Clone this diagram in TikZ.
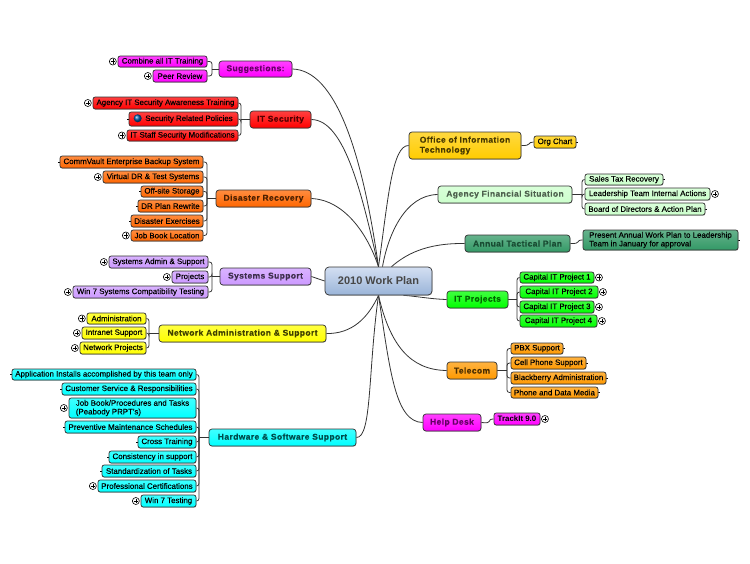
\documentclass[tikz,border=0pt]{standalone}
\usepackage{fontspec}
\setmainfont{Liberation Sans}
\newfontfamily\brfont[LetterSpace=4.5,FakeBold=0.25]{Liberation Sans Bold}
\newfontfamily\lffont[FakeBold=0.12]{Liberation Sans}
\usetikzlibrary{shadows,backgrounds,calc}
\definecolor{lineC}{HTML}{333333}
\definecolor{orgA}{HTML}{FF6600}\definecolor{purA}{HTML}{CC99FF}\definecolor{offA}{HTML}{FFCC00}
\definecolor{finA}{HTML}{CCFFCC}\definecolor{annA}{HTML}{339966}\definecolor{telA}{HTML}{FF9900}
\definecolor{magA}{HTML}{FF00FF}\definecolor{grnA}{HTML}{00FF00}\definecolor{cyaA}{HTML}{00FFFF}\definecolor{yelA}{HTML}{FFFF00}\definecolor{redA}{HTML}{FF0000}
\definecolor{cenT}{HTML}{D3DFF2}\definecolor{cenM}{HTML}{B4C9E6}\definecolor{cenB}{HTML}{9AB4D8}
\tikzset{
  x=1pt,y=-1pt,
  link/.style={draw=lineC,line width=0.8pt},
  bx/.style={rounded corners=2.2pt,draw=lineC,line width=0.7pt,inner sep=0pt,align=left,
    drop shadow={shadow xshift=0.4pt,shadow yshift=-0.7pt,fill=black!45,opacity=0.7}},
  leaf/.style={bx,font=\lffont\fontsize{7.9}{8.7}\selectfont,text=black,
    top color=#1!75!white,middle color=#1,bottom color=#1},
  leafb/.style={leaf=#1,font=\fontsize{7.9}{8.7}\selectfont\bfseries},
  branch/.style n args={2}{bx,rounded corners=3pt,font=\brfont\fontsize{8.5}{10}\selectfont,text=#2,
    top color=#1!75!white,middle color=#1,bottom color=#1},
  pm/.style={circle,draw=black,fill=white,line width=0.6pt,minimum size=7pt,inner sep=0pt,
    path picture={\draw[line width=0.7pt,black] ($(path picture bounding box.center)+(-2.2,0)$)--($(path picture bounding box.center)+(2.2,0)$)
      ($(path picture bounding box.center)+(0,-2.2)$)--($(path picture bounding box.center)+(0,2.2)$);}},
  tick/.style={draw=black,line width=0.7pt},
}
\newcommand{\nbox}[7]{%
  \pgfmathsetmacro{\xc}{(#2+#4)/2}\pgfmathsetmacro{\yc}{(#3+#5)/2}%
  \pgfmathsetmacro{\ww}{#4-#2}\pgfmathsetmacro{\hh}{#5-#3}%
  \node[#6,minimum width=\ww pt,minimum height=\hh pt] (#1) at (\xc,\yc) {#7};}
\newcommand{\plL}[1]{\node[pm] (p#1) at ($(#1.west)+(-4.8,0)$) {};}
\newcommand{\plR}[1]{\node[pm] (p#1) at ($(#1.east)+(4.6,0)$) {};}
\newcommand{\tkL}[1]{\draw[tick] (#1.west) -- ++(-1.6,0);}
\newcommand{\tkR}[1]{\draw[tick] (#1.east) -- ++(1.6,0);}
\begin{document}
\begin{tikzpicture}
\useasboundingbox (0,0) rectangle (750,563);
% central
\nbox{c}{325}{267}{432}{295}{bx,rounded corners=4pt,font=\fontsize{11}{12}\selectfont\bfseries,text=black!72,top color=cenT,middle color=cenM,bottom color=cenB}{2010 Work Plan}
% branches
\nbox{sug}{219}{61}{292}{77}{branch={magA}{black!60!magA}}{Suggestions:}
\nbox{sec}{250}{111}{311}{128}{branch={redA}{black!65!redA}}{IT Security}
\nbox{dis}{216}{190}{311}{207}{branch={orgA}{black!70!orgA}}{Disaster Recovery}
\nbox{sys}{220}{268}{311}{285}{branch={purA}{black!70!purA}}{Systems Support}
\nbox{net}{159}{325}{326}{342}{branch={yelA}{black!75!yelA}}{Network Administration \& Support}
\nbox{hw}{209}{429}{356}{446}{branch={cyaA}{black!70!cyaA}}{Hardware \& Software Support}
\nbox{off}{409}{132}{521}{159}{branch={offA}{black!72!offA}}{Office of Information\hspace{6pt}\\Technology}
\nbox{fin}{438}{186}{572}{203}{branch={finA}{black!62!finA}}{Agency Financial Situation}
\nbox{ann}{465}{235}{570}{252}{branch={annA}{black!50!annA}}{Annual Tactical Plan}
\nbox{prj}{447}{291}{508}{308}{branch={grnA}{black!60!grnA}}{IT Projects}
\nbox{tel}{447}{362}{497}{379}{branch={telA}{black!70!telA}}{Telecom}
\nbox{hlp}{423}{414}{481}{431}{branch={magA}{black!60!magA}}{Help Desk}
% leaves left
\nbox{a1}{118}{56}{207}{67}{leaf=magA}{Combine all IT Training}
\nbox{a2}{153}{70}{207}{82}{leaf=magA}{Peer Review}
\nbox{b1}{93}{97}{238}{109}{leaf=redA}{Agency IT Security Awareness Training}
\nbox{b2}{129}{112}{238}{126}{leaf=redA}{\hspace{11pt}Security Related Policies}
\nbox{b3}{127}{130}{238}{141}{leaf=redA}{IT Staff Security Modifications}
\nbox{d1}{60}{156}{203}{168}{leaf=orgA}{CommVault Enterprise Backup System}
\nbox{d2}{103}{171}{203}{183}{leaf=orgA}{Virtual DR \& Test Systems}
\nbox{d3}{141}{186}{203}{197}{leaf=orgA}{Off-site Storage}
\nbox{d4}{138}{200}{203}{212}{leaf=orgA}{DR Plan Rewrite}
\nbox{d5}{131}{215}{203}{227}{leaf=orgA}{Disaster Exercises}
\nbox{d6}{131}{230}{203}{241}{leaf=orgA}{Job Book Location}
\nbox{s1}{109}{256}{208}{268}{leaf=purA}{Systems Admin \& Support}
\nbox{s2}{172}{271}{208}{283}{leaf=purA}{Projects}
\nbox{s3}{73}{286}{208}{298}{leaf=purA}{Win 7 Systems Compatibility Testing}
\nbox{n1}{87}{313}{146}{324}{leaf=yelA}{Administration}
\nbox{n2}{82}{327}{146}{339}{leaf=yelA}{Intranet Support}
\nbox{n3}{80}{342}{146}{354}{leaf=yelA}{Network Projects}
\nbox{h1}{12}{369}{196}{380}{leaf=cyaA}{Application Installs accomplished by this team only}
\nbox{h2}{62}{383}{196}{395}{leaf=cyaA}{Customer Service \& Responsibilities}
\nbox{h3}{69}{398}{196}{418}{leaf=cyaA}{Job Book/Procedures and Tasks\hspace{5pt}\\(Peabody PRPT's)}
\nbox{h4}{65}{421}{196}{433}{leaf=cyaA}{Preventive Maintenance Schedules}
\nbox{h5}{138}{436}{196}{448}{leaf=cyaA}{Cross Training}
\nbox{h6}{109}{451}{196}{463}{leaf=cyaA}{Consistency in support}
\nbox{h7}{102}{465}{196}{477}{leaf=cyaA}{Standardization of Tasks}
\nbox{h8}{98}{480}{196}{492}{leaf=cyaA}{Professional Certifications}
\nbox{h9}{141}{495}{196}{507}{leaf=cyaA}{Win 7 Testing}
% leaves right
\nbox{o1}{534}{136}{576}{148}{leaf=offA}{Org Chart}
\nbox{f1}{585}{174}{663}{185}{leaf=finA}{Sales Tax Recovery}
\nbox{f2}{585}{188}{710}{200}{leaf=finA}{Leadership Team Internal Actions}
\nbox{f3}{585}{203}{705}{215}{leaf=finA}{Board of Directors \& Action Plan}
\nbox{t1}{583}{230}{738}{250}{leaf=annA}{Present Annual Work Plan to Leadership\hspace{3pt}\\Team in January for approval}
\nbox{c1}{520}{272}{594}{283}{leaf=grnA}{Capital IT Project 1}
\nbox{c2}{520}{286}{598}{298}{leaf=grnA}{Capital IT Project 2}
\nbox{c3}{520}{301}{594}{313}{leaf=grnA}{Capital IT Project 3}
\nbox{c4}{520}{315}{597}{327}{leaf=grnA}{Capital IT Project 4}
\nbox{e1}{511}{343}{563}{354}{leaf=telA}{PBX Support}
\nbox{e2}{511}{357}{586}{369}{leaf=telA}{Cell Phone Support}
\nbox{e3}{511}{372}{606}{384}{leaf=telA}{Blackberry Administration}
\nbox{e4}{511}{387}{598}{398}{leaf=telA}{Phone and Data Media}
\nbox{k1}{494}{413}{540}{425}{leafb=magA}{TrackIt 9.0}
% globe icon
\node[circle,minimum size=8pt,inner sep=0pt,shading=ball,ball color=teal!70!blue] (globe) at (137.7,118.3) {};
% expand markers
\foreach \k in {a1,a2,b1,b3,d2,d6,s1,s2,s3,n1,n2,n3,h3,h8,h9}{\plL{\k}}
\foreach \k in {f2,c1,c2,c3,c4,k1}{\plR{\k}}
\begin{scope}[on background layer]
  \foreach \k in {b2,d1,d3,d4,d5,h1,h2,h4,h5,h6,h7}{\tkL{\k}}
  \foreach \k in {o1,f1,f3,t1,e1,e2,e3,e4}{\tkR{\k}}
  % centre to branches
  \draw[link] (sug.east) .. controls (335,70) and (362,150) .. (c.north);
  \draw[link] (sec.east) .. controls (345,120) and (362,195) .. (c.north);
  \draw[link] (dis.east) .. controls (345,200) and (368,235) .. (c.north);
  \draw[link] (sys.east) -- (c.west);
  \draw[link] (net.east) .. controls (352,334) and (368,318) .. (c.south);
  \draw[link] (hw.east) .. controls (372,438) and (368,370) .. (c.south);
  \draw[link] (off.west) .. controls (392,145) and (388,200) .. (c.north);
  \draw[link] (fin.west) .. controls (405,195) and (388,235) .. ($(c.north)+(4,0)$);
  \draw[link] (ann.west) .. controls (425,243) and (405,255) .. ($(c.north)+(13,0)$);
  \draw[link] (prj.west) .. controls (430,299) and (415,296) .. ($(c.south)+(25,0)$);
  \draw[link] (tel.west) .. controls (410,370) and (390,345) .. (c.south);
  \draw[link] (hlp.west) .. controls (395,422) and (390,370) .. (c.south);
  % branch to leaves
  \coordinate (busa) at (212,69);
  \draw[link] (sug.west) -- (busa);
  \foreach \k in {a1,a2}{\draw[link,rounded corners=2.5pt] (busa) |- (\k.east);}
  \coordinate (busb) at (241,119.5);
  \draw[link] (sec.west) -- (busb);
  \foreach \k in {b1,b2,b3}{\draw[link,rounded corners=2.5pt] (busb) |- (\k.east);}
  \coordinate (busd) at (207,198.5);
  \draw[link] (dis.west) -- (busd);
  \foreach \k in {d1,d2,d3,d4,d5,d6}{\draw[link,rounded corners=2.5pt] (busd) |- (\k.east);}
  \coordinate (buss) at (212,276.5);
  \draw[link] (sys.west) -- (buss);
  \foreach \k in {s1,s2,s3}{\draw[link,rounded corners=2.5pt] (buss) |- (\k.east);}
  \coordinate (busn) at (149,333.5);
  \draw[link] (net.west) -- (busn);
  \foreach \k in {n1,n2,n3}{\draw[link,rounded corners=2.5pt] (busn) |- (\k.east);}
  \coordinate (bush) at (199,437.5);
  \draw[link] (hw.west) -- (bush);
  \foreach \k in {h1,h2,h3,h4,h5,h6,h7,h8,h9}{\draw[link,rounded corners=2.5pt] (bush) |- (\k.east);}
  \coordinate (busf) at (582,194.5);
  \draw[link] (fin.east) -- (busf);
  \foreach \k in {f1,f2,f3}{\draw[link,rounded corners=2.5pt] (busf) |- (\k.west);}
  \coordinate (busc) at (517,299.5);
  \draw[link] (prj.east) -- (busc);
  \foreach \k in {c1,c2,c3,c4}{\draw[link,rounded corners=2.5pt] (busc) |- (\k.west);}
  \coordinate (buse) at (507,370.5);
  \draw[link] (tel.east) -- (buse);
  \foreach \k in {e1,e2,e3,e4}{\draw[link,rounded corners=2.5pt] (buse) |- (\k.west);}
  % single leaves
  \draw[link] (off.east) .. controls (532,146) and (527,142) .. (o1.west);
  \draw[link] (ann.east) .. controls (582,244) and (575,240) .. (t1.west);
  \draw[link] (hlp.east) .. controls (494,424) and (486,419) .. (k1.west);
\end{scope}
\end{tikzpicture}
\end{document}
